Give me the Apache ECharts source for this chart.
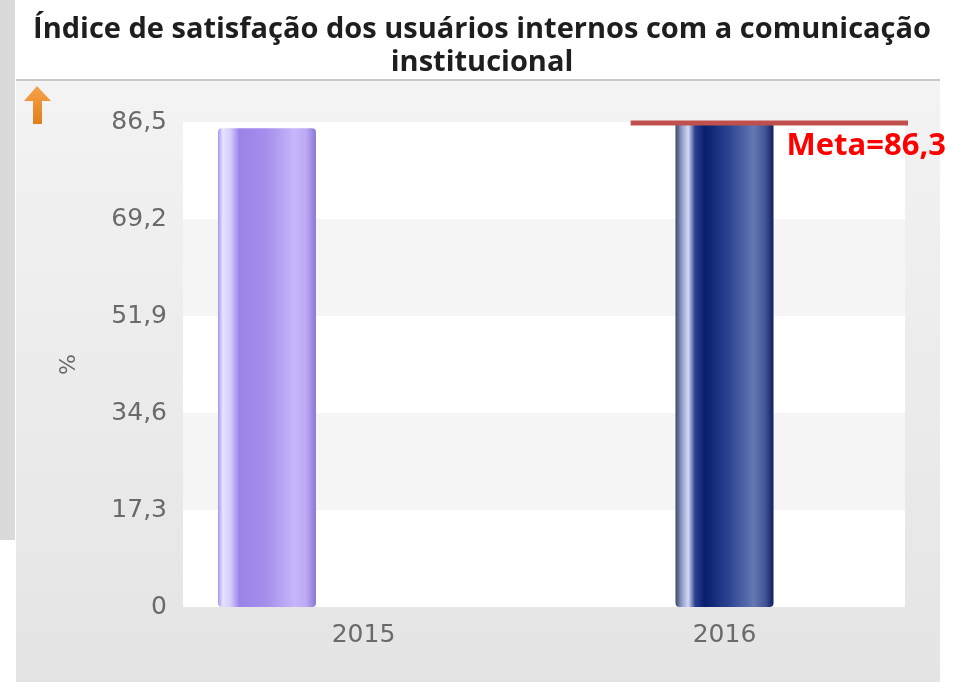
<!DOCTYPE html>
<html>
<head>
<meta charset="utf-8">
<script src="https://cdn.jsdelivr.net/npm/echarts@6/dist/echarts.min.js"></script>
<style>
  html, body { margin: 0; padding: 0; background: #fff; }
  #chart { width: 970px; height: 682px; }
</style>
</head>
<body>
<div id="chart"></div>
<script>
// dados do gráfico
const categories = ['2015', '2016'];
const values2015 = [85.4, '-'];
const values2016 = ['-', 86.8];
const metaValue = 86.3;
const metaSpan = [1.24, 2.014];   // extensão horizontal da linha de meta (escala 0..2)
const yMax = 86.5;
const yStep = 17.3;

const chart = echarts.init(document.getElementById('chart'));

function fmtTick(v) {
    if (v === 0) return '0';
    return v.toFixed(1).replace('.', ',');
}

const option = {
    backgroundColor: '#ffffff',
    animation: false,
    title: {
        text: 'Índice de satisfação dos usuários internos com a comunicação\ninstitucional',
        left: 477,
        textAlign: 'center',
        top: 8,
        textStyle: {
            fontFamily: 'Open Sans',
            fontWeight: 'bold',
            fontSize: 29,
            lineHeight: 33,
            color: '#1e1e1e'
        }
    },
    graphic: [
        { type: 'rect', z: -10, shape: { x: 0, y: 0, width: 15, height: 540 }, style: { fill: '#dadada' } },
        {
            type: 'rect', z: -10,
            shape: { x: 16, y: 81, width: 924, height: 601 },
            style: {
                fill: new echarts.graphic.LinearGradient(0, 0, 0, 1, [
                    { offset: 0, color: '#f3f3f3' },
                    { offset: 1, color: '#e4e4e4' }
                ])
            }
        },
        { type: 'line', z: -9, shape: { x1: 16, y1: 80, x2: 940, y2: 80 }, style: { stroke: '#c9c9c9', lineWidth: 2 } },
        {
            type: 'polygon', z: 10,
            shape: { points: [[37, 86], [51, 101], [42, 101], [42, 124], [33, 124], [33, 101], [24, 101]] },
            style: {
                fill: new echarts.graphic.LinearGradient(0, 0, 0, 1, [
                    { offset: 0, color: '#f7a24a' },
                    { offset: 1, color: '#e07f1c' }
                ])
            }
        }
    ],
    grid: { left: 183, right: 65, top: 122, bottom: 75, containLabel: false },
    xAxis: [
        {
            type: 'category',
            data: categories,
            axisLine: { show: false },
            axisTick: { show: false },
            axisLabel: { margin: 16, color: '#6a6a6a', fontFamily: 'DejaVu Sans', fontSize: 25 }
        },
        { type: 'value', min: 0, max: 2, show: false }
    ],
    yAxis: {
        type: 'value',
        min: 0,
        max: yMax,
        interval: yStep,
        name: '%',
        nameLocation: 'middle',
        nameRotate: 90,
        nameGap: 103,
        nameTextStyle: { color: '#6a6a6a', fontFamily: 'DejaVu Sans', fontSize: 22 },
        axisLine: { show: false },
        axisTick: { show: false },
        splitLine: { show: false },
        splitArea: { show: true, areaStyle: { color: ['#ffffff', '#f5f5f5'] } },
        axisLabel: { margin: 16, color: '#6a6a6a', fontFamily: 'DejaVu Sans', fontSize: 25, formatter: fmtTick }
    },
    series: [
        {
            name: '2015',
            type: 'bar',
            data: values2015,
            barWidth: 98,
            barGap: '-1.5%',
            itemStyle: {
                borderRadius: 4,
                color: new echarts.graphic.LinearGradient(0, 0, 1, 0, [
                    { offset: 0, color: '#a996ec' },
                    { offset: 0.05, color: '#e9e2ff' },
                    { offset: 0.13, color: '#d6cbfc' },
                    { offset: 0.22, color: '#9a82e9' },
                    { offset: 0.5, color: '#a58fec' },
                    { offset: 0.78, color: '#c6b6fa' },
                    { offset: 0.9, color: '#bba9f4' },
                    { offset: 1, color: '#8a77d6' }
                ])
            }
        },
        {
            name: '2016',
            type: 'bar',
            data: values2016,
            barWidth: 98,
            itemStyle: {
                borderRadius: 4,
                color: new echarts.graphic.LinearGradient(0, 0, 1, 0, [
                    { offset: 0, color: '#3b4766' },
                    { offset: 0.06, color: '#8c98c4' },
                    { offset: 0.13, color: '#d2daf6' },
                    { offset: 0.2, color: '#2a3f8e' },
                    { offset: 0.3, color: '#081e6e' },
                    { offset: 0.55, color: '#2d4591' },
                    { offset: 0.8, color: '#6478b4' },
                    { offset: 0.92, color: '#3f5396' },
                    { offset: 1, color: '#0f1d5c' }
                ])
            }
        },
        {
            name: 'vazio',
            type: 'bar',
            data: ['-', '-'],
            barWidth: 98
        },
        {
            name: 'Meta',
            type: 'line',
            xAxisIndex: 1,
            data: [[metaSpan[0], metaValue], [metaSpan[1], metaValue]],
            symbol: 'none',
            clip: false,
            z: 5,
            lineStyle: { color: '#c0504d', width: 5 },
            endLabel: {
                show: true,
                formatter: 'Meta=' + String(metaValue).replace('.', ','),
                color: '#ff0000',
                fontFamily: 'Open Sans',
                fontWeight: 'bold',
                fontSize: 31,
                align: 'right',
                verticalAlign: 'top',
                offset: [30, 8]
            }
        }
    ]
};

chart.setOption(option);
window.addEventListener('resize', () => chart.resize());
</script>
</body>
</html>
